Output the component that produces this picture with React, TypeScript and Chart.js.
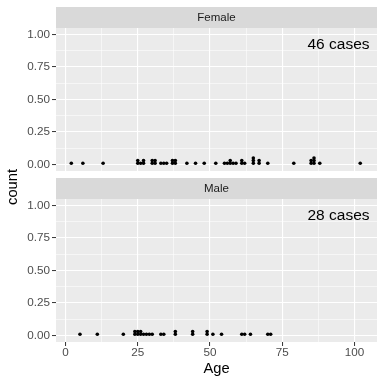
import { useEffect, useRef } from "react";
import { Chart, registerables } from "chart.js";

Chart.register(...registerables);

// ---- data ----
const facets = ["Female", "Male"];
const caseLabels = ["46 cases", "28 cases"];

const femaleAge = [
  2, 6, 13, 25, 25, 26, 27, 27, 30, 30, 31, 31, 33, 34, 35, 37, 37, 38, 38, 42,
  45, 48, 52, 55, 56, 57, 57, 58, 59, 61, 61, 62, 65, 65, 65, 67, 67, 70, 79,
  85, 85, 86, 86, 86, 88, 102,
];
const femaleCount = [
  0.01, 0.01, 0.01, 0.01, 0.03, 0.01, 0.01, 0.03, 0.01, 0.03, 0.01, 0.03, 0.01,
  0.01, 0.01, 0.01, 0.03, 0.01, 0.03, 0.01, 0.01, 0.01, 0.01, 0.01, 0.01, 0.01,
  0.03, 0.01, 0.01, 0.01, 0.03, 0.01, 0.01, 0.03, 0.05, 0.01, 0.03, 0.01, 0.01,
  0.01, 0.03, 0.01, 0.03, 0.05, 0.01, 0.01,
];

const maleAge = [
  5, 11, 20, 24, 24, 25, 25, 26, 26, 27, 28, 29, 30, 33, 34, 38, 38, 44, 44, 49,
  49, 51, 54, 61, 62, 64, 70, 71,
];
const maleCount = [
  0.01, 0.01, 0.01, 0.01, 0.03, 0.01, 0.03, 0.01, 0.03, 0.01, 0.01, 0.01, 0.01,
  0.01, 0.01, 0.01, 0.03, 0.01, 0.03, 0.01, 0.03, 0.01, 0.01, 0.01, 0.01, 0.01,
  0.01, 0.01,
];

const xMajor = [0, 25, 50, 75, 100];
const xMinor = [12.5, 37.5, 62.5, 87.5];
const yMajor = [0, 0.25, 0.5, 0.75, 1];
const yMinor = [0.125, 0.375, 0.625, 0.875];

const FONT = '"Liberation Sans", Arial, Helvetica, sans-serif';

const facetPlugin = {
  id: "facetPanel",
  beforeDraw(chart: any, _args: any, opts: any) {
    const { ctx, chartArea } = chart;
    const { left, right, top, bottom } = chartArea;
    ctx.save();
    ctx.fillStyle = "#EBEBEB";
    ctx.fillRect(left, top, right - left, bottom - top);
    ctx.fillStyle = "#D9D9D9";
    ctx.fillRect(left, top - 21, right - left, 21);
    ctx.fillStyle = "#1A1A1A";
    ctx.font = `11.5px ${FONT}`;
    ctx.textAlign = "center";
    ctx.textBaseline = "middle";
    ctx.fillText(opts.strip, (left + right) / 2, top - 10.5);
    ctx.restore();
  },
  afterDatasetsDraw(chart: any, _args: any, opts: any) {
    const { ctx, chartArea } = chart;
    ctx.save();
    ctx.fillStyle = "#000000";
    ctx.font = `15.5px ${FONT}`;
    ctx.textAlign = "right";
    ctx.textBaseline = "middle";
    ctx.fillText(opts.cases, chartArea.right - 7.5, chartArea.top + 16.5);
    if (opts.countTitle) {
      ctx.font = `14.7px ${FONT}`;
      ctx.textAlign = "center";
      ctx.translate(13, 187);
      ctx.rotate(-Math.PI / 2);
      ctx.fillText("count", 0, 0);
    }
    ctx.restore();
  },
};

function buildConfig(
  ages: number[],
  counts: number[],
  facet: string,
  cases: string,
  isBottom: boolean
): any {
  const top = isBottom ? 199 : 28;
  const bottom = isBottom ? 342 : 171;
  const xTickVals = [...xMajor, ...xMinor].sort((a, b) => a - b);
  const yTickVals = [...yMajor, ...yMinor].sort((a, b) => a - b);
  return {
    type: "scatter",
    data: {
      datasets: [
        {
          data: ages.map((a, i) => ({ x: a, y: counts[i] })),
          backgroundColor: "#000000",
          borderColor: "#000000",
          pointRadius: 1.8,
          pointBorderWidth: 0,
        },
      ],
    },
    options: {
      animation: false,
      responsive: false,
      events: [],
      layout: {
        padding: { top, bottom: isBottom ? 0 : 384 - bottom, left: 0, right: 7 },
      },
      plugins: {
        legend: { display: false },
        tooltip: { enabled: false },
        facetPanel: { strip: facet, cases, countTitle: isBottom },
      },
      scales: {
        x: {
          type: "linear",
          position: "bottom",
          min: -3.3,
          max: 107.8,
          afterBuildTicks: (scale: any) => {
            scale.ticks = xTickVals.map((v) => ({ value: v }));
          },
          afterFit: (scale: any) => {
            scale.height = isBottom ? 42 : 0;
          },
          border: { display: false },
          grid: {
            color: "#FFFFFF",
            lineWidth: (c: any) => (xMajor.includes(c.tick?.value) ? 1.1 : 0.55),
            drawTicks: isBottom,
            tickLength: 4,
            tickWidth: 1,
            tickColor: (c: any) =>
              xMajor.includes(c.tick?.value) ? "#333333" : "rgba(0,0,0,0)",
          },
          ticks: {
            display: isBottom,
            autoSkip: false,
            maxRotation: 0,
            padding: 0,
            color: "#4D4D4D",
            font: { family: FONT, size: 11.7 },
            callback: (v: any) => (xMajor.includes(v) ? String(v) : ""),
          },
          title: {
            display: isBottom,
            text: "Age",
            color: "#000000",
            font: { family: FONT, size: 14.7 },
            padding: { top: 0, bottom: 6 },
          },
        },
        y: {
          type: "linear",
          position: "left",
          min: -0.05,
          max: 1.05,
          afterBuildTicks: (scale: any) => {
            scale.ticks = yTickVals.map((v) => ({ value: v }));
          },
          afterFit: (scale: any) => {
            scale.width = 56;
          },
          border: { display: false },
          grid: {
            color: "#FFFFFF",
            lineWidth: (c: any) => (yMajor.includes(c.tick?.value) ? 1.1 : 0.55),
            drawTicks: true,
            tickLength: 4,
            tickWidth: 1,
            tickColor: (c: any) =>
              yMajor.includes(c.tick?.value) ? "#333333" : "rgba(0,0,0,0)",
          },
          ticks: {
            autoSkip: false,
            padding: 2,
            color: "#4D4D4D",
            font: { family: FONT, size: 11.7 },
            callback: (v: any) => (yMajor.includes(v) ? Number(v).toFixed(2) : ""),
          },
        },
      },
    },
    plugins: [facetPlugin],
  };
}

export default function App() {
  const maleRef = useRef<HTMLCanvasElement | null>(null);
  const femaleRef = useRef<HTMLCanvasElement | null>(null);

  useEffect(() => {
    document.body.style.margin = "0";
    const charts: Chart[] = [];
    if (maleRef.current) {
      charts.push(
        new Chart(
          maleRef.current,
          buildConfig(maleAge, maleCount, facets[1], caseLabels[1], true)
        )
      );
    }
    if (femaleRef.current) {
      charts.push(
        new Chart(
          femaleRef.current,
          buildConfig(femaleAge, femaleCount, facets[0], caseLabels[0], false)
        )
      );
    }
    return () => charts.forEach((c) => c.destroy());
  }, []);

  const canvasStyle: React.CSSProperties = {
    position: "absolute",
    left: 0,
    top: 0,
    width: 384,
    height: 384,
  };

  return (
    <div style={{ position: "relative", width: 384, height: 384, background: "#FFFFFF" }}>
      <canvas ref={maleRef} width={384} height={384} style={canvasStyle} />
      <canvas ref={femaleRef} width={384} height={384} style={canvasStyle} />
    </div>
  );
}
